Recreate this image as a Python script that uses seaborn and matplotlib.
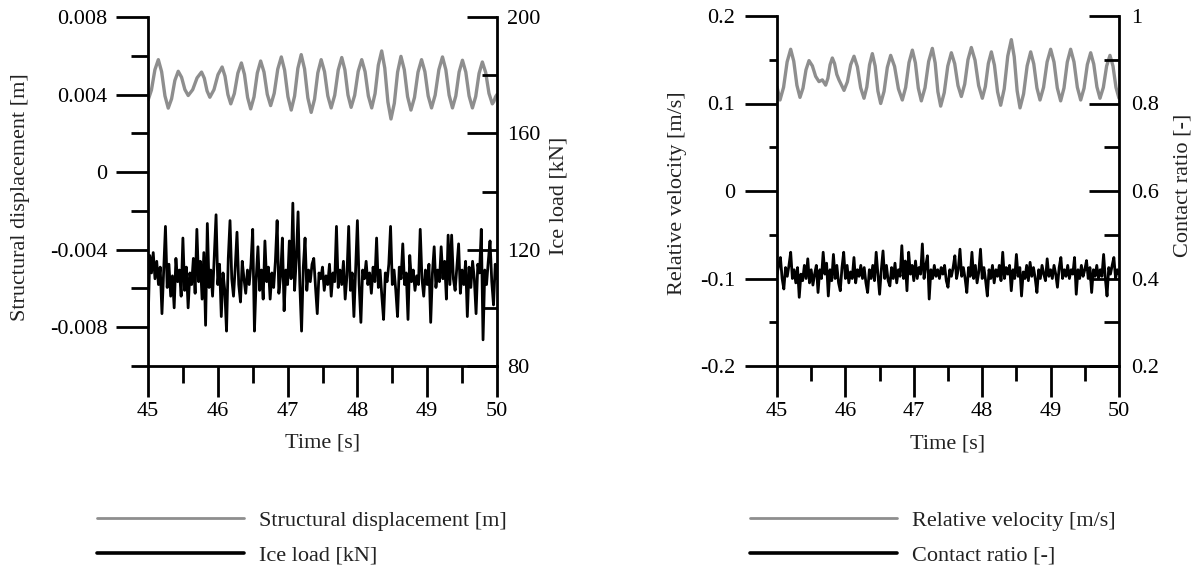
import numpy as np
import matplotlib
matplotlib.use("Agg")
import matplotlib.pyplot as plt
import seaborn as sns
from matplotlib.ticker import FixedLocator, FixedFormatter

# ---------------- data ----------------
# Left panel: structural displacement [m] (grey), (time [s], value)
disp_points = [
    (45.000, .00370), (45.049, .00423), (45.099, .00528), (45.148, .00580),
    (45.195, .00518), (45.243, .00393), (45.290, .00330), (45.338, .00378),
    (45.385, .00473), (45.433, .00520), (45.481, .00489), (45.528, .00426),
    (45.576, .00395), (45.640, .00425), (45.703, .00486), (45.767, .00516),
    (45.807, .00484), (45.846, .00419), (45.886, .00386), (45.945, .00425),
    (46.003, .00503), (46.062, .00542), (46.103, .00495), (46.145, .00400),
    (46.186, .00352), (46.237, .00405), (46.287, .00510), (46.338, .00563),
    (46.382, .00504), (46.427, .00385), (46.471, .00326), (46.519, .00388),
    (46.566, .00511), (46.614, .00573), (46.662, .00516), (46.709, .00401),
    (46.757, .00343), (46.808, .00406), (46.859, .00531), (46.910, .00594),
    (46.957, .00526), (47.005, .00389), (47.052, .00320), (47.100, .00392),
    (47.147, .00535), (47.195, .00606), (47.243, .00532), (47.290, .00383),
    (47.338, .00308), (47.386, .00376), (47.433, .00512), (47.481, .00580),
    (47.529, .00518), (47.576, .00393), (47.624, .00331), (47.675, .00396),
    (47.725, .00526), (47.776, .00591), (47.821, .00527), (47.865, .00398),
    (47.910, .00334), (47.961, .00396), (48.011, .00519), (48.062, .00580),
    (48.110, .00518), (48.157, .00393), (48.205, .00331), (48.253, .00405),
    (48.300, .00552), (48.348, .00625), (48.392, .00537), (48.437, .00362),
    (48.481, .00274), (48.529, .00355), (48.576, .00516), (48.624, .00597),
    (48.672, .00528), (48.719, .00389), (48.767, .00320), (48.818, .00385),
    (48.868, .00515), (48.919, .00580), (48.967, .00518), (49.014, .00393),
    (49.062, .00331), (49.114, .00397), (49.167, .00528), (49.219, .00594),
    (49.267, .00528), (49.314, .00397), (49.362, .00331), (49.410, .00393),
    (49.457, .00516), (49.505, .00577), (49.553, .00516), (49.600, .00393),
    (49.648, .00331), (49.695, .00390), (49.743, .00509), (49.790, .00568),
    (49.838, .00514), (49.885, .00406), (49.933, .00352), (49.955, .00364),
    (49.978, .00388), (50.000, .00400),
]

# Left panel: ice load [kN] (black), evenly sampled from 45 s to 50 s
ice_load = [93, 118, 112, 119, 110, 116, 108, 114, 98, 113,
            128, 107, 115, 104, 111, 100, 117, 109, 113, 104,
            124, 106, 114, 100, 112, 108, 117, 105, 127, 109,
            116, 103, 119, 94, 129, 107, 113, 104, 118, 132,
            108, 115, 97, 112, 106, 92, 117, 130, 110, 104,
            114, 126, 108, 102, 116, 110, 105, 113, 108, 115,
            127, 92, 110, 121, 106, 113, 103, 123, 109, 114,
            103, 112, 107, 116, 130, 105, 111, 124, 99, 113,
            108, 123, 110, 136, 106, 117, 133, 108, 92, 114,
            124, 106, 113, 109, 115, 117, 107, 98, 112, 110,
            114, 106, 111, 108, 115, 104, 112, 109, 128, 107,
            113, 108, 116, 103, 111, 128, 106, 112, 97, 114,
            130, 108, 95, 113, 110, 116, 108, 112, 105, 114,
            109, 124, 107, 113, 104, 96, 112, 109, 115, 128,
            108, 113, 106, 97, 114, 110, 122, 108, 112, 96,
            118, 109, 113, 106, 111, 108, 127, 110, 104, 113,
            108, 115, 95, 112, 121, 107, 113, 109, 121, 110,
            116, 103, 125, 108, 125, 110, 106, 114, 122, 105,
            113, 108, 116, 97, 114, 107, 116, 110, 98, 115,
            112, 127, 89, 113, 108, 116, 123, 109, 101, 115,
            110]

# Right panel: relative velocity [m/s] (grey), (time [s], value)
vel_points = [
    (45.000, .119), (45.044, .104), (45.096, .1185), (45.148, .1475),
    (45.200, .162), (45.245, .1483), (45.291, .1208), (45.336, .107),
    (45.380, .1175), (45.424, .1385), (45.468, .149), (45.517, .143),
    (45.565, .131), (45.614, .125), (45.663, .127), (45.711, .121),
    (45.744, .1288), (45.776, .1443), (45.809, .152), (45.841, .1458),
    (45.874, .1333), (45.906, .127), (45.980, .115), (46.029, .1248),
    (46.077, .1443), (46.126, .154), (46.175, .142), (46.223, .118),
    (46.272, .106), (46.313, .1188), (46.353, .1443), (46.394, .157),
    (46.435, .1428), (46.475, .1143), (46.516, .100), (46.565, .1138),
    (46.613, .1413), (46.662, .155), (46.719, .1423), (46.775, .1168),
    (46.832, .104), (46.881, .1183), (46.930, .1468), (46.979, .161),
    (47.023, .1465), (47.066, .1175), (47.110, .103), (47.164, .118),
    (47.217, .148), (47.271, .163), (47.312, .1465), (47.352, .1135),
    (47.393, .097), (47.445, .1123), (47.497, .1428), (47.549, .158),
    (47.598, .1455), (47.646, .1205), (47.695, .108), (47.744, .122),
    (47.792, .150), (47.841, .164), (47.895, .1495), (47.948, .1205),
    (48.002, .106), (48.046, .1193), (48.090, .1458), (48.134, .159),
    (48.179, .1438), (48.225, .1133), (48.270, .098), (48.322, .1168),
    (48.374, .1543), (48.426, .173), (48.468, .1535), (48.511, .1145),
    (48.553, .095), (48.605, .111), (48.657, .143), (48.709, .159),
    (48.754, .1453), (48.800, .1178), (48.845, .104), (48.897, .1185),
    (48.949, .1475), (49.001, .162), (49.050, .1473), (49.098, .1178),
    (49.147, .103), (49.196, .1178), (49.244, .1473), (49.293, .162),
    (49.342, .1475), (49.391, .1185), (49.440, .104), (49.489, .1175),
    (49.537, .1445), (49.586, .158), (49.631, .145), (49.677, .119),
    (49.722, .106), (49.771, .1183), (49.819, .1428), (49.868, .155),
    (49.912, .1428), (49.956, .1183), (50.000, .106),
]

# Right panel: contact ratio [-] (black), evenly sampled from 45 s to 50 s
contact = [0.41, 0.43, 0.448, 0.40, 0.376, 0.425, 0.405, 0.43, 0.46, 0.40,
           0.42, 0.39, 0.425, 0.357, 0.41, 0.395, 0.43, 0.40, 0.445, 0.39,
           0.42, 0.385, 0.41, 0.43, 0.368, 0.42, 0.40, 0.46, 0.41, 0.435,
           0.36, 0.42, 0.395, 0.455, 0.40, 0.43, 0.39, 0.372, 0.425, 0.46,
           0.40, 0.43, 0.39, 0.415, 0.40, 0.448, 0.39, 0.42, 0.405, 0.43,
           0.40, 0.425, 0.39, 0.368, 0.42, 0.40, 0.43, 0.395, 0.46, 0.41,
           0.364, 0.42, 0.463, 0.40, 0.43, 0.395, 0.383, 0.425, 0.40, 0.435,
           0.39, 0.42, 0.405, 0.475, 0.40, 0.44, 0.372, 0.46, 0.41, 0.43,
           0.395, 0.44, 0.40, 0.425, 0.41, 0.479, 0.40, 0.43, 0.452, 0.353,
           0.42, 0.40, 0.43, 0.405, 0.42, 0.40, 0.425, 0.41, 0.43, 0.395,
           0.38, 0.42, 0.405, 0.425, 0.452, 0.40, 0.42, 0.467, 0.405, 0.425,
           0.40, 0.368, 0.425, 0.405, 0.46, 0.40, 0.43, 0.39, 0.415, 0.467,
           0.40, 0.425, 0.395, 0.36, 0.42, 0.40, 0.43, 0.39, 0.42, 0.405,
           0.43, 0.395, 0.46, 0.40, 0.425, 0.41, 0.43, 0.372, 0.42, 0.40,
           0.455, 0.405, 0.425, 0.36, 0.415, 0.40, 0.43, 0.395, 0.437, 0.405,
           0.425, 0.40, 0.368, 0.42, 0.40, 0.43, 0.41, 0.395, 0.445, 0.405,
           0.42, 0.40, 0.43, 0.41, 0.38, 0.425, 0.448, 0.40, 0.42, 0.405,
           0.43, 0.40, 0.42, 0.41, 0.448, 0.364, 0.42, 0.40, 0.43, 0.405,
           0.42, 0.441, 0.40, 0.425, 0.368, 0.42, 0.405, 0.43, 0.40, 0.42,
           0.405, 0.455, 0.40, 0.36, 0.425, 0.41, 0.43, 0.448, 0.40, 0.42,
           0.41]

t_start, t_end = 45.0, 50.0

# ticks / labels
x_major = [45, 46, 47, 48, 49, 50]
x_minor = [45.5, 46.5, 47.5, 48.5, 49.5]
x_labels = ["45", "46", "47", "48", "49", "50"]

disp_major = [-0.008, -0.004, 0.0, 0.004, 0.008]
disp_minor = [-0.01, -0.006, -0.002, 0.002, 0.006]
disp_labels = ["-0.008", "-0.004", "0", "0.004", "0.008"]
ice_major = [80, 120, 160, 200]
ice_minor = [100, 140, 180]
ice_labels = ["80", "120", "160", "200"]

vel_major = [-0.2, -0.1, 0.0, 0.1, 0.2]
vel_minor = [-0.15, -0.05, 0.05, 0.15]
vel_labels = ["-0.2", "-0.1", "0", "0.1", "0.2"]
cr_major = [0.2, 0.4, 0.6, 0.8, 1.0]
cr_minor = [0.3, 0.5, 0.7, 0.9]
cr_labels = ["0.2", "0.4", "0.6", "0.8", "1"]

# ---------------- styling ----------------
sns.set_theme(style="ticks")
plt.rcParams["font.family"] = ["Liberation Serif", "DejaVu Serif"]
plt.rcParams["axes.unicode_minus"] = False
plt.rcParams["axes.edgecolor"] = "black"
plt.rcParams["xtick.color"] = "black"
plt.rcParams["ytick.color"] = "black"
plt.rcParams["text.color"] = "#222222"
plt.rcParams["axes.labelcolor"] = "#222222"
plt.rcParams["lines.solid_joinstyle"] = "round"
plt.rcParams["lines.solid_capstyle"] = "round"

FS = 16
GREY = "#8e8e8e"
SPW = 2.0

fig = plt.figure(figsize=(12.03, 5.71), dpi=100)
fig.patch.set_facecolor("white")


def setup_panel(ax, ax2, ylim, y_major, y_minor, y_labels, y2lim, y2_major, y2_minor,
                y2_labels, ylab, y2lab, ylab_xy, y2lab_xy, xlab_y,
                ymin_len, xmin_len, y2pad, ypad):
    ax.set_xlim(t_start, t_end)
    ax.set_ylim(*ylim)
    ax2.set_ylim(*y2lim)
    ax.patch.set_visible(False)
    for s in ["top", "right"]:
        ax.spines[s].set_visible(False)
    for s in ["top", "left", "bottom"]:
        ax2.spines[s].set_visible(False)
    for s in ["left", "bottom"]:
        ax.spines[s].set_linewidth(SPW)
        ax.spines[s].set_color("black")
    ax2.spines["right"].set_linewidth(SPW)
    ax2.spines["right"].set_color("black")

    ax.xaxis.set_major_locator(FixedLocator(x_major))
    ax.xaxis.set_major_formatter(FixedFormatter(x_labels))
    ax.xaxis.set_minor_locator(FixedLocator(x_minor))
    ax.yaxis.set_major_locator(FixedLocator(y_major))
    ax.yaxis.set_major_formatter(FixedFormatter(y_labels))
    ax.yaxis.set_minor_locator(FixedLocator(y_minor))
    ax2.yaxis.set_major_locator(FixedLocator(y2_major))
    ax2.yaxis.set_major_formatter(FixedFormatter(y2_labels))
    ax2.yaxis.set_minor_locator(FixedLocator(y2_minor))

    ax.tick_params(axis="x", which="major", direction="out", length=22.5, width=SPW,
                   pad=3.5, labelsize=FS)
    ax.tick_params(axis="x", which="minor", direction="out", length=xmin_len, width=SPW)
    ax.tick_params(axis="y", which="major", direction="out", length=23, width=SPW,
                   pad=ypad, labelsize=FS)
    ax.tick_params(axis="y", which="minor", direction="out", length=ymin_len, width=SPW)
    ax2.tick_params(axis="y", which="major", direction="in", length=21.5, width=SPW,
                    pad=y2pad, labelsize=FS)
    ax2.tick_params(axis="y", which="minor", direction="in", length=10.5, width=SPW)

    ax.set_xlabel("Time [s]", fontsize=FS)
    ax.xaxis.set_label_coords(0.5, xlab_y)
    ax.set_ylabel(ylab, fontsize=FS)
    ax.yaxis.set_label_coords(*ylab_xy)
    ax2.set_ylabel(y2lab, fontsize=FS)
    ax2.yaxis.set_label_coords(*y2lab_xy)


# ---------------- left panel ----------------
disp_t = [p[0] for p in disp_points]
disp_v = [p[1] for p in disp_points]
axL = fig.add_axes([148 / 1203, 1 - 366 / 571, 349 / 1203, 349 / 571])
axL2 = axL.twinx()
sns.lineplot(x=disp_t, y=disp_v, ax=axL, color=GREY, linewidth=2.4,
             label="Structural displacement [m]", legend=False)
ice_t = np.linspace(t_start, t_end, len(ice_load))
sns.lineplot(x=ice_t, y=ice_load, ax=axL2, color="black", linewidth=2.0,
             label="Ice load [kN]", legend=False)
setup_panel(axL, axL2, (-0.01, 0.008), disp_major, disp_minor, disp_labels,
            (80, 200), ice_major, ice_minor, ice_labels,
            "Structural displacement [m]", "Ice load [kN]",
            (-0.338, 0.484), (1.150, 0.487), -0.192,
            ymin_len=12, xmin_len=12, y2pad=7.5, ypad=6)

# ---------------- right panel ----------------
vel_t = [p[0] for p in vel_points]
vel_v = [p[1] for p in vel_points]
axR = fig.add_axes([777 / 1203, 1 - 366 / 571, 342 / 1203, 350 / 571])
axR2 = axR.twinx()
sns.lineplot(x=vel_t, y=vel_v, ax=axR, color=GREY, linewidth=2.4,
             label="Relative velocity [m/s]", legend=False)
cr_t = np.linspace(t_start, t_end, len(contact))
sns.lineplot(x=cr_t, y=contact, ax=axR2, color="black", linewidth=2.0,
             label="Contact ratio [-]", legend=False)
setup_panel(axR, axR2, (-0.2, 0.2), vel_major, vel_minor, vel_labels,
            (0.2, 1.0), cr_major, cr_minor, cr_labels,
            "Relative velocity [m/s]", "Contact ratio [-]",
            (-0.263, 0.494), (1.158, 0.517), -0.197,
            ymin_len=6, xmin_len=11, y2pad=9, ypad=7)

# ---------------- legends ----------------
def add_legend(ax, ax2, x0):
    h1 = ax.get_lines()[0]
    h2 = ax2.get_lines()[0]
    leg = fig.legend([h1, h2], [h1.get_label(), h2.get_label()], loc="upper left",
                     bbox_to_anchor=(x0, 1 - 510 / 571), frameon=False,
                     handlelength=6.6, handletextpad=0.7, labelspacing=0.66,
                     borderpad=0, borderaxespad=0, fontsize=FS)
    lines = leg.get_lines()
    lines[0].set_linewidth(2.0)
    lines[1].set_linewidth(2.6)
    return leg

add_legend(axL, axL2, 97 / 1203)
add_legend(axR, axR2, 750 / 1203)

fig.savefig("out.png", dpi=100, facecolor="white")
